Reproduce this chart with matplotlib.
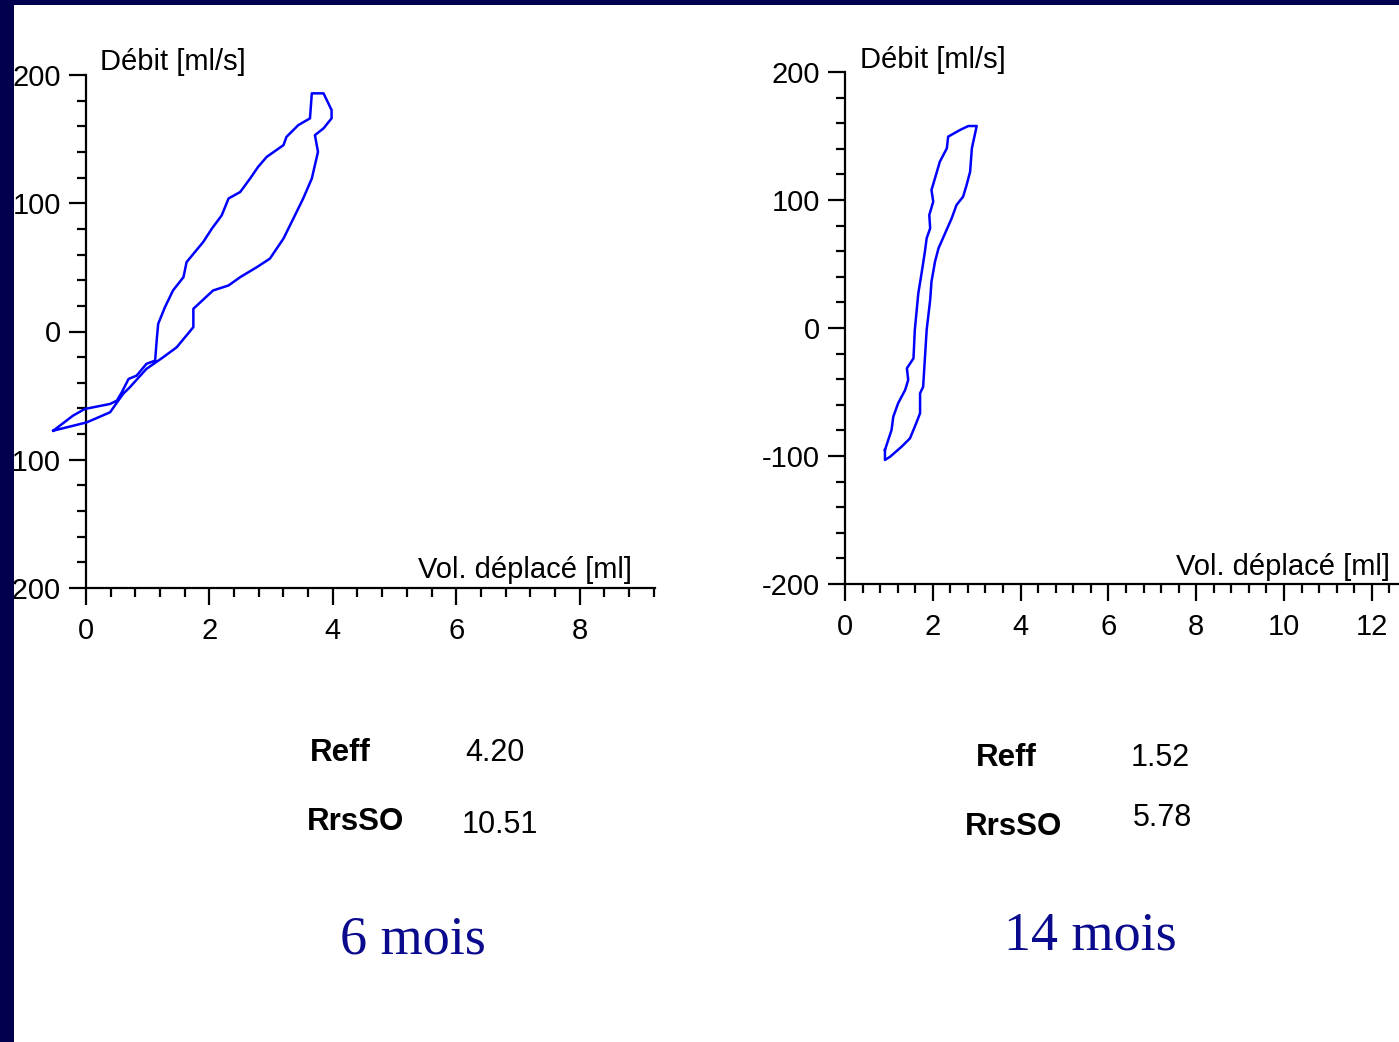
import matplotlib
matplotlib.use("Agg")
import matplotlib.pyplot as plt
from matplotlib.ticker import MultipleLocator
from matplotlib.patches import Rectangle

# ---------------- data ----------------
# 6 months loop (volume [ml], flow [ml/s])
vol_6 = [-0.53, -0.21, -0.02, 0.39, 0.50, 0.58, 0.69, 0.82, 0.98, 1.12, 1.15, 1.17,
         1.28, 1.41, 1.58, 1.63, 1.90, 2.04, 2.20, 2.31, 2.50, 2.66, 2.79, 2.93,
         3.20, 3.25, 3.44, 3.63, 3.66, 3.85, 3.98, 3.98, 3.85, 3.71,
         3.76, 3.66, 3.52, 3.36, 3.20, 2.98, 2.77, 2.50, 2.31, 2.06, 1.74, 1.74,
         1.47, 1.25, 0.98, 0.71, 0.60, 0.39, 0.01, -0.42, -0.53]
flow_6 = [-77.3, -65.6, -60.4, -56.5, -53.9, -47.4, -37.0, -34.4, -25.2, -22.7, -4.5, 6.0,
          19.0, 32.0, 42.4, 54.1, 69.8, 80.2, 90.6, 103.7, 108.8, 119.3, 128.4, 136.2,
          145.3, 151.8, 160.9, 166.2, 185.7, 185.7, 172.7, 166.2, 158.4, 153.1,
          140.1, 119.3, 103.7, 88.0, 72.4, 56.8, 50.2, 42.4, 35.9, 32.0, 17.7, 3.4,
          -12.3, -20.1, -29.1, -43.5, -48.7, -63.0, -70.9, -76.0, -77.3]

# 14 months loop
vol_14 = [0.91, 1.06, 1.10, 1.21, 1.37, 1.44, 1.41, 1.56, 1.59, 1.67, 1.75, 1.82,
          1.86, 1.94, 1.92, 2.01, 1.97, 2.05, 2.16, 2.32, 2.35, 2.62, 2.81, 3.00,
          2.89, 2.85, 2.77, 2.69, 2.54, 2.43, 2.28, 2.13, 2.05, 1.97, 1.94, 1.86,
          1.78, 1.71, 1.71, 1.59, 1.48, 1.29, 1.03, 0.91, 0.91]
flow_14 = [-95.3, -79.7, -69.3, -58.8, -48.4, -40.6, -31.5, -23.7, -1.6, 27.1, 44.0, 59.6,
           70.1, 77.9, 88.3, 98.7, 107.8, 117.0, 129.9, 140.4, 149.5, 154.7, 157.8, 157.8,
           140.4, 122.1, 111.7, 102.6, 96.1, 85.7, 74.0, 62.3, 51.8, 36.2, 21.9, -1.6,
           -45.9, -51.0, -66.6, -77.1, -86.2, -92.7, -100.5, -103.1, -95.3]

y_label = "Débit [ml/s]"
x_label = "Vol. déplacé [ml]"
param_names = ["Reff", "RrsSO"]
params_6 = ["4.20", "10.51"]
params_14 = ["1.52", "5.78"]
titles = ["6 mois", "14 mois"]

# ---------------- figure ----------------
W, H = 1399, 1042
plt.rcParams['axes.unicode_minus'] = False
fig = plt.figure(figsize=(W / 100, H / 100), dpi=100, facecolor="white")

SANS = ["Liberation Sans", "DejaVu Sans"]
SERIF = ["Liberation Serif", "DejaVu Serif"]


def fx(px):
    return px / W


def fy(py):
    return 1 - py / H


def make_axes(x0, x1, ytop, ybot, xmax, vol, flow):
    ax = fig.add_axes([fx(x0), fy(ybot), fx(x1) - fx(x0), fy(ytop) - fy(ybot)])
    ax.set_facecolor("none")
    ax.plot(vol, flow, color="#0000ff", lw=1.8, zorder=3, clip_on=False)
    ax.set_xlim(0, xmax)
    ax.set_ylim(-200, 200)
    for s in ["top", "right"]:
        ax.spines[s].set_visible(False)
    for s in ["left", "bottom"]:
        ax.spines[s].set_linewidth(1.6)
        ax.spines[s].set_color("black")
    ax.xaxis.set_major_locator(MultipleLocator(2))
    ax.xaxis.set_minor_locator(MultipleLocator(0.4))
    ax.yaxis.set_major_locator(MultipleLocator(100))
    ax.yaxis.set_minor_locator(MultipleLocator(20))
    ax.tick_params(axis="both", which="major", direction="out", length=12, width=1.6,
                   labelsize=21, colors="black")
    ax.tick_params(axis="both", which="minor", direction="out", length=6.5, width=1.6)
    ax.tick_params(axis="x", which="major", pad=9)
    ax.tick_params(axis="y", which="major", pad=6)
    for lab in ax.get_xticklabels() + ax.get_yticklabels():
        lab.set_family(SANS)
    return ax


ax1 = make_axes(86, 655, 75, 588, (655 - 86) / 61.7, vol_6, flow_6)
ax2 = make_axes(845, 1399, 72, 584, (1399 - 845) / 43.9, vol_14, flow_14)

# axis titles
fig.text(fx(100), fy(62), y_label, family=SANS, fontsize=21, va="center", ha="left")
fig.text(fx(860), fy(60), y_label, family=SANS, fontsize=21, va="center", ha="left")
fig.text(fx(632), fy(570), x_label, family=SANS, fontsize=21, va="center", ha="right")
fig.text(fx(1390), fy(567), x_label, family=SANS, fontsize=21, va="center", ha="right")

# parameters
fig.text(fx(310), fy(753), param_names[0], family=SANS, weight="bold", fontsize=22.5, va="center")
fig.text(fx(307), fy(822), param_names[1], family=SANS, weight="bold", fontsize=22.5, va="center")
fig.text(fx(465), fy(753), params_6[0], family=SANS, fontsize=22, va="center")
fig.text(fx(462), fy(825), params_6[1], family=SANS, fontsize=22, va="center")

fig.text(fx(976), fy(758), param_names[0], family=SANS, weight="bold", fontsize=22.5, va="center")
fig.text(fx(965), fy(827), param_names[1], family=SANS, weight="bold", fontsize=22.5, va="center")
fig.text(fx(1131), fy(758), params_14[0], family=SANS, fontsize=22, va="center")
fig.text(fx(1133), fy(818), params_14[1], family=SANS, fontsize=22, va="center")

# titles
fig.text(fx(340), fy(954), titles[0], family=SERIF, fontsize=39, color="#0a0a8c", va="baseline")
fig.text(fx(1004), fy(950), titles[1], family=SERIF, fontsize=39, color="#0a0a8c", va="baseline")

# slide border (dark navy, top and left)
border = "#00004f"
fig.patches.append(Rectangle((0, 0), fx(14), 1, transform=fig.transFigure,
                             facecolor=border, edgecolor="none", zorder=10))
fig.patches.append(Rectangle((0, fy(5)), 1, 1 - fy(5), transform=fig.transFigure,
                             facecolor=border, edgecolor="none", zorder=10))

fig.savefig("out.png", dpi=100, facecolor="white")
